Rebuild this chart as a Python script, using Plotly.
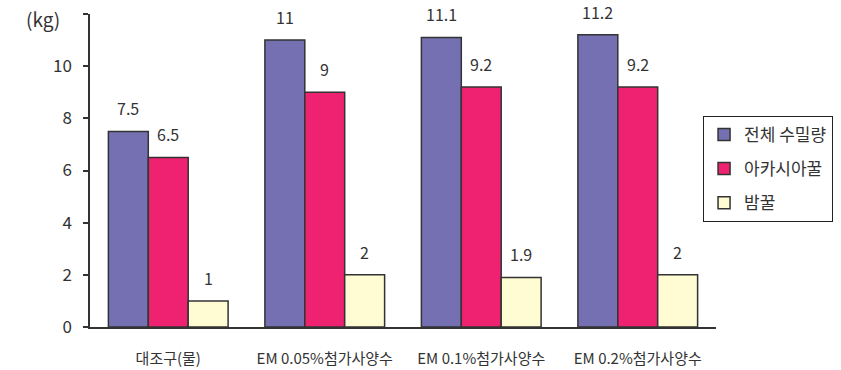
import plotly.graph_objects as go

categories = ["대조구(물)", "EM 0.05%첨가사양수", "EM 0.1%첨가사양수", "EM 0.2%첨가사양수"]
series_names = ["전체 수밀량", "아카시아꿀", "밤꿀"]
total_honey = [7.5, 11, 11.1, 11.2]
acacia_honey = [6.5, 9, 9.2, 9.2]
chestnut_honey = [1, 2, 1.9, 2]
value_labels = [["7.5", "11", "11.1", "11.2"], ["6.5", "9", "9.2", "9.2"], ["1", "2", "1.9", "2"]]
colors = ["#7470B2", "#EE2270", "#FFFBD3"]
y_ticks = [0, 2, 4, 6, 8, 10, 12]

FONT = "Noto Sans CJK KR"
fig = go.Figure()
series = [total_honey, acacia_honey, chestnut_honey]
for i, (name, vals, col) in enumerate(zip(series_names, series, colors)):
    fig.add_trace(go.Bar(
        x=categories, y=vals, name=name, legendgroup=f"g{i}",
        marker=dict(color=col, line=dict(color="#333333", width=1.5)),
    ))

shifts = [-40, 0, 40]
for si, (vals, labs) in enumerate(zip(series, value_labels)):
    for c, v, t in zip(categories, vals, labs):
        fig.add_annotation(x=c, y=v, text=t, showarrow=False, xshift=shifts[si],
                           yshift=23, font=dict(family=FONT, size=16, color="#333333"))

fig.add_annotation(xref="paper", yref="paper", x=-0.045, y=0.985, xanchor="right", yanchor="middle",
                   text="(kg)", showarrow=False, font=dict(family=FONT, size=19, color="#333333"))

fig.update_layout(
    width=841, height=370,
    margin=dict(l=90, r=125, t=14, b=43, autoexpand=False),
    paper_bgcolor="white", plot_bgcolor="white",
    barmode="group", bargap=0.235, bargroupgap=0,
    font=dict(family=FONT, color="#333333"),
    legend=dict(x=0.979, y=0.675, xanchor="left", yanchor="top",
                bordercolor="#222222", borderwidth=1.2, bgcolor="white",
                font=dict(family=FONT, size=17, color="#333333"),
                tracegroupgap=9, itemwidth=30),
    showlegend=True,
)
fig.update_xaxes(range=[-0.5, 3.5], showline=True, linecolor="#333333", linewidth=1.5,
                 ticks="", tickfont=dict(family=FONT, size=15, color="#333333"),
                 ticklabelstandoff=17, automargin=False)
fig.update_yaxes(range=[0, 12], tickvals=y_ticks, showline=True, linecolor="#333333", linewidth=1.5,
                 ticks="outside", ticklen=5, tickwidth=1.5, tickcolor="#333333",
                 showgrid=False, zeroline=False, automargin=False,
                 tickfont=dict(family=FONT, size=17, color="#333333"), ticklabelstandoff=8)

fig.write_html("out.html")
